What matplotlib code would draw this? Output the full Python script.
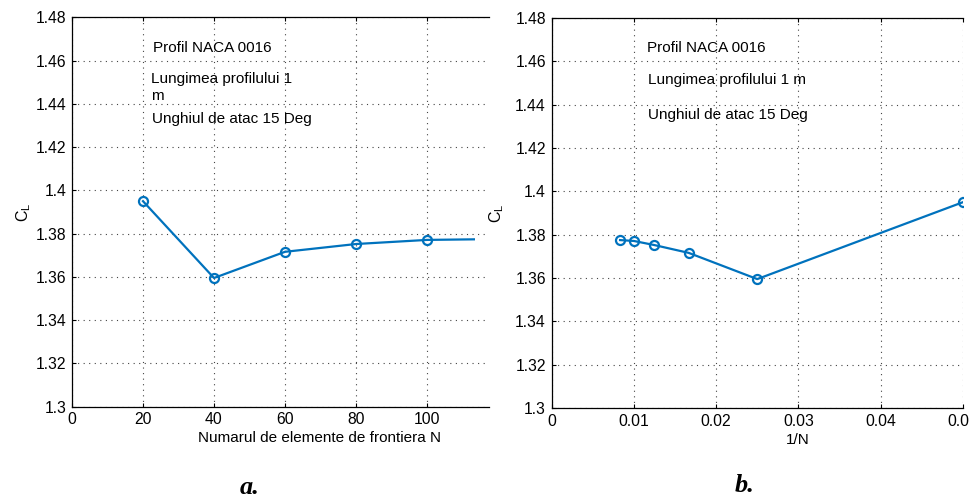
import matplotlib
matplotlib.use("Agg")
import matplotlib.pyplot as plt
from matplotlib.transforms import Bbox, TransformedBbox

plt.rcParams["font.family"] = ["Liberation Sans", "DejaVu Sans"]
plt.rcParams["mathtext.fontset"] = "custom"
plt.rcParams["mathtext.rm"] = "Liberation Sans"

# =========================
# DATA
# =========================
N = [20, 40, 60, 80, 100, 120]
CL = [1.395, 1.3595, 1.3716, 1.3752, 1.3771, 1.3775]
inv_N = [1.0 / n for n in N]

info_a = ["Profil NACA 0016", "Lungimea profilului 1\nm", "Unghiul de atac 15 Deg"]
info_b = ["Profil NACA 0016", "Lungimea profilului 1 m", "Unghiul de atac 15 Deg"]

yticks = [1.3, 1.32, 1.34, 1.36, 1.38, 1.4, 1.42, 1.44, 1.46, 1.48]
ytick_labels = ["1.3", "1.32", "1.34", "1.36", "1.38", "1.4", "1.42", "1.44", "1.46", "1.48"]

BLUE = "#0072BD"
W, H = 969, 495
FS = 11


def px_axes(left, right, top, bottom):
    return [left / W, 1 - bottom / H, (right - left) / W, (bottom - top) / H]


def style(ax):
    ax.set_ylim(1.3, 1.48)
    ax.set_yticks(yticks)
    ax.set_yticklabels(ytick_labels)
    ax.grid(True, linestyle=(0, (1, 4)), color="#444444", linewidth=0.8)
    ax.tick_params(direction="in", top=True, right=False, length=3,
                   labelsize=11.3, pad=4, width=0.8)
    ax.spines["right"].set_visible(False)
    for s in ("left", "bottom", "top"):
        ax.spines[s].set_linewidth(0.9)
    ax.set_ylabel(r"$\mathregular{C_L}$", fontsize=11.5)


fig = plt.figure(figsize=(W / 100, H / 100), dpi=100)

# =========================
# a. CL vs N
# =========================
ax1 = fig.add_axes(px_axes(72, 489, 17.3, 406.7))
style(ax1)
ax1.set_xlim(0, (489 - 72) / 3.55)
ax1.set_xticks([0, 20, 40, 60, 80, 100])
line, = ax1.plot(N, CL, color=BLUE, lw=1.6, marker="o", ms=6.5,
                 mfc="none", mew=1.6)
line.set_clip_box(TransformedBbox(Bbox([[0, 1.3], [113.5, 1.48]]), ax1.transData))
ax1.set_xlabel("Numarul de elemente de frontiera N", fontsize=FS)
ax1.xaxis.set_label_coords((320 - 72) / (489 - 72), -(438 - 406.7) / 389.4,
                           transform=ax1.transAxes)
ax1.xaxis.label.set_va("center")
ax1.yaxis.set_label_coords(-(72 - 24) / 417, 0.5)
ax1.yaxis.label.set_va("center")

ax1.text(22.8, 1.4658, info_a[0], fontsize=FS, va="center")
ax1.text(22.2, 1.4476, info_a[1], fontsize=FS, va="center", linespacing=1.3)
ax1.text(22.5, 1.4330, info_a[2], fontsize=FS, va="center")

# =========================
# b. CL vs 1/N
# =========================
ax2 = fig.add_axes(px_axes(551.5, 963, 18, 408))
style(ax2)
ax2.set_xlim(0, 0.05)
ax2.set_xticks([0, 0.01, 0.02, 0.03, 0.04, 0.05])
ax2.set_xticklabels(["0", "0.01", "0.02", "0.03", "0.04", "0.05"])
ax2.plot(inv_N, CL, color=BLUE, lw=1.6, marker="o", ms=6.5,
         mfc="none", mew=1.6)
ax2.set_xlabel("1/N", fontsize=FS)
ax2.xaxis.set_label_coords((798 - 551.5) / (963 - 551.5), -(440 - 408) / 390,
                           transform=ax2.transAxes)
ax2.xaxis.label.set_va("center")
ax2.yaxis.set_label_coords(-(551.5 - 497) / 411.5, 0.5)
ax2.yaxis.label.set_va("center")

ax2.text(0.0116, 1.4662, info_b[0], fontsize=FS, va="center")
ax2.text(0.0117, 1.4514, info_b[1], fontsize=FS, va="center")
ax2.text(0.0117, 1.4352, info_b[2], fontsize=FS, va="center")

# =========================
# CAPTIONS
# =========================
cap = dict(family=["Liberation Serif", "DejaVu Serif"], fontsize=19,
           fontweight="bold", fontstyle="italic", ha="center", va="center")
fig.text(250 / W, 1 - 487 / H, "a.", **cap)
fig.text(745 / W, 1 - 485 / H, "b.", **cap)

fig.savefig("out.png", dpi=100)
